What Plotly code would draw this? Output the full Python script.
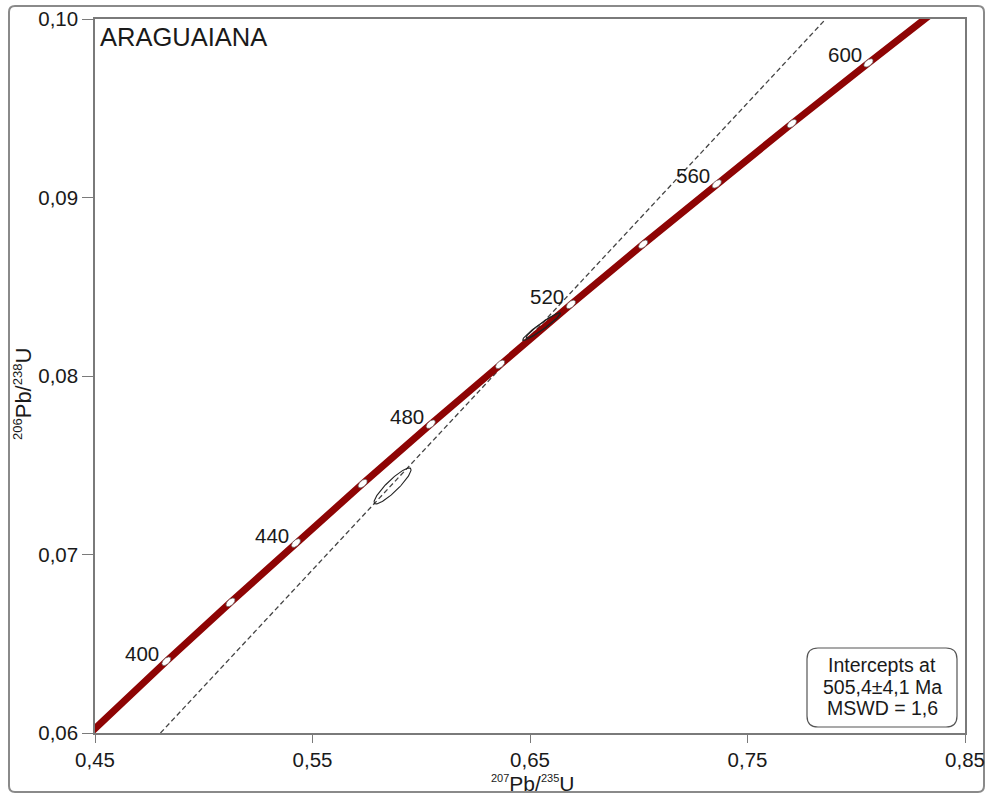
import numpy as np
import plotly.graph_objects as go

# Concordia curve points (age in Ma, 207Pb/235U, 206Pb/238U)
conc_age = [360, 380, 400, 420, 440, 460, 480, 500, 520, 540, 560, 580, 600, 620]
conc_x = [0.42553, 0.45389, 0.48281, 0.51231, 0.54239, 0.57307, 0.60437, 0.63628,
          0.66883, 0.70203, 0.73588, 0.77041, 0.80563, 0.84155]
conc_y = [0.05743, 0.06072, 0.06402, 0.06732, 0.07064, 0.07397, 0.07730, 0.08065,
          0.08401, 0.08738, 0.09076, 0.09414, 0.09754, 0.10095]
tick_ages = [400, 420, 440, 460, 480, 500, 520, 540, 560, 580, 600]
label_ages = [400, 440, 480, 520, 560, 600]

# Discordia line end points
disc_x = [0.4801, 0.786]
disc_y = [0.060, 0.100]

# Analyses: centre, 2-sigma half extents, error correlation
ell_cx = [0.6553, 0.6561, 0.5868]
ell_cy = [0.08276, 0.08283, 0.07384]
ell_sx = [0.0087, 0.0079, 0.0085]
ell_sy = [0.00077, 0.00071, 0.00101]
ell_rho = [0.96, 0.955, 0.90]

x_ticks = [0.45, 0.55, 0.65, 0.75, 0.85]
x_ticktext = ["0,45", "0,55", "0,65", "0,75", "0,85"]
y_ticks = [0.06, 0.07, 0.08, 0.09, 0.10]
y_ticktext = ["0,06", "0,07", "0,08", "0,09", "0,10"]

sample_name = "ARAGUAIANA"
result_lines = ["Intercepts at", "505,4±4,1 Ma", "MSWD = 1,6"]

FONT = "Liberation Sans, Arial, sans-serif"
W, H = 989, 795
ML, MR, MT, MB = 95, 24, 19, 62
PW, PH = W - ML - MR, H - MT - MB
XR, YR = (0.45, 0.85), (0.06, 0.10)
XS = PW / (XR[1] - XR[0])
YS = PH / (YR[1] - YR[0])


def px_to_paper(px, py):
    return (px - ML) / PW, (H - MB - py) / PH


def rounded_rect(x0, y0, x1, y1, r):
    def p(a, b):
        u, v = px_to_paper(a, b)
        return f"{u:.5f},{v:.5f}"
    return (f"M {p(x0 + r, y0)} L {p(x1 - r, y0)} Q {p(x1, y0)} {p(x1, y0 + r)} "
            f"L {p(x1, y1 - r)} Q {p(x1, y1)} {p(x1 - r, y1)} "
            f"L {p(x0 + r, y1)} Q {p(x0, y1)} {p(x0, y1 - r)} "
            f"L {p(x0, y0 + r)} Q {p(x0, y0)} {p(x0 + r, y0)} Z")


fig = go.Figure()

# Discordia
fig.add_trace(go.Scatter(x=disc_x, y=disc_y, mode="lines",
                         line=dict(color="#444444", width=1.3, dash="5px,3px"),
                         hoverinfo="skip", showlegend=False))

# Concordia
fig.add_trace(go.Scatter(x=conc_x, y=conc_y, mode="lines",
                         line=dict(color="#8e0404", width=7),
                         hoverinfo="skip", showlegend=False))

# Error ellipses
t = np.linspace(0, 2 * np.pi, 120)
for cx, cy, sx, sy, rho in zip(ell_cx, ell_cy, ell_sx, ell_sy, ell_rho):
    ex = cx + sx * np.cos(t)
    ey = cy + sy * (rho * np.cos(t) + np.sqrt(1 - rho ** 2) * np.sin(t))
    fig.add_trace(go.Scatter(x=ex, y=ey, mode="lines",
                             line=dict(color="#222222", width=1.1),
                             hoverinfo="skip", showlegend=False))

# Age markers on the concordia: small white ellipses aligned with the curve
mx, my = [], []
for age in tick_ages:
    i = conc_age.index(age)
    dxp = (conc_x[i + 1] - conc_x[i - 1]) * XS
    dyp = (conc_y[i + 1] - conc_y[i - 1]) * YS
    n = np.hypot(dxp, dyp)
    ux, uy = dxp / n, dyp / n
    a, b = 5.5, 3.0
    px = a * np.cos(t) * ux - b * np.sin(t) * uy
    py = a * np.cos(t) * uy + b * np.sin(t) * ux
    mx += list(conc_x[i] + px / XS) + [None]
    my += list(conc_y[i] + py / YS) + [None]
fig.add_trace(go.Scatter(x=mx, y=my, mode="lines", fill="toself",
                         fillcolor="white", line=dict(color="#666666", width=0.7),
                         hoverinfo="skip", showlegend=False))

annotations = []
for age in label_ages:
    i = conc_age.index(age)
    annotations.append(dict(x=conc_x[i], y=conc_y[i], xref="x", yref="y",
                            text=str(age), showarrow=False,
                            xanchor="right", yanchor="middle",
                            xshift=-5, yshift=8,
                            font=dict(family=FONT, size=20.5, color="#1a1a1a")))

tx, ty = px_to_paper(98, 37)
annotations.append(dict(x=tx, y=ty, xref="paper", yref="paper", text=sample_name,
                        showarrow=False, xanchor="left", yanchor="middle",
                        font=dict(family=FONT, size=25.5, color="#1a1a1a")))

# Result box text
for line, py in zip(result_lines, [665, 687, 708]):
    bx, by = px_to_paper(882, py)
    annotations.append(dict(x=bx, y=by, xref="paper", yref="paper", text=line,
                            showarrow=False, xanchor="center", yanchor="middle",
                            font=dict(family=FONT, size=19.5, color="#1a1a1a")))

# Axis titles
def iso_label(m1, m2, sup_size):
    s = "<sup><span style='font-size:%dpx'>{}</span></sup>" % sup_size
    return s.format(m1) + "Pb/" + s.format(m2) + "U"


xt_x, xt_y = px_to_paper(532, 783)
annotations.append(dict(x=xt_x, y=xt_y, xref="paper", yref="paper",
                        text=iso_label("207", "235", 11),
                        showarrow=False, xanchor="center", yanchor="middle",
                        font=dict(family=FONT, size=21, color="#1a1a1a")))
yt_x, yt_y = px_to_paper(23, 394)
annotations.append(dict(x=yt_x, y=yt_y, xref="paper", yref="paper",
                        text=iso_label("206", "238", 13),
                        showarrow=False, xanchor="center", yanchor="middle",
                        textangle=-90,
                        font=dict(family=FONT, size=22, color="#1a1a1a")))

shapes = [
    dict(type="path", xref="paper", yref="paper", path=rounded_rect(9, 6, 984, 792, 6),
         line=dict(color="#8a8a8a", width=2), layer="below"),
    dict(type="path", xref="paper", yref="paper", path=rounded_rect(807, 648, 957, 727, 11),
         line=dict(color="#555555", width=1.2), fillcolor="white", layer="above"),
]

axis_common = dict(showgrid=False, zeroline=False, showline=True, mirror=True,
                   linecolor="#7a7a7a", linewidth=1.5, ticks="outside",
                   tickcolor="#7a7a7a", tickwidth=1.2, automargin=False,
                   tickfont=dict(family=FONT, size=20.5, color="#1a1a1a"))

fig.update_layout(
    width=W, height=H,
    margin=dict(l=ML, r=MR, t=MT, b=MB, autoexpand=False),
    paper_bgcolor="white", plot_bgcolor="white",
    xaxis=dict(range=list(XR), tickvals=x_ticks, ticktext=x_ticktext, ticklen=8,
               **axis_common),
    yaxis=dict(range=list(YR), tickvals=y_ticks, ticktext=y_ticktext, ticklen=11,
               **axis_common),
    annotations=annotations,
    shapes=shapes,
    showlegend=False,
)

fig.write_html("out.html")
